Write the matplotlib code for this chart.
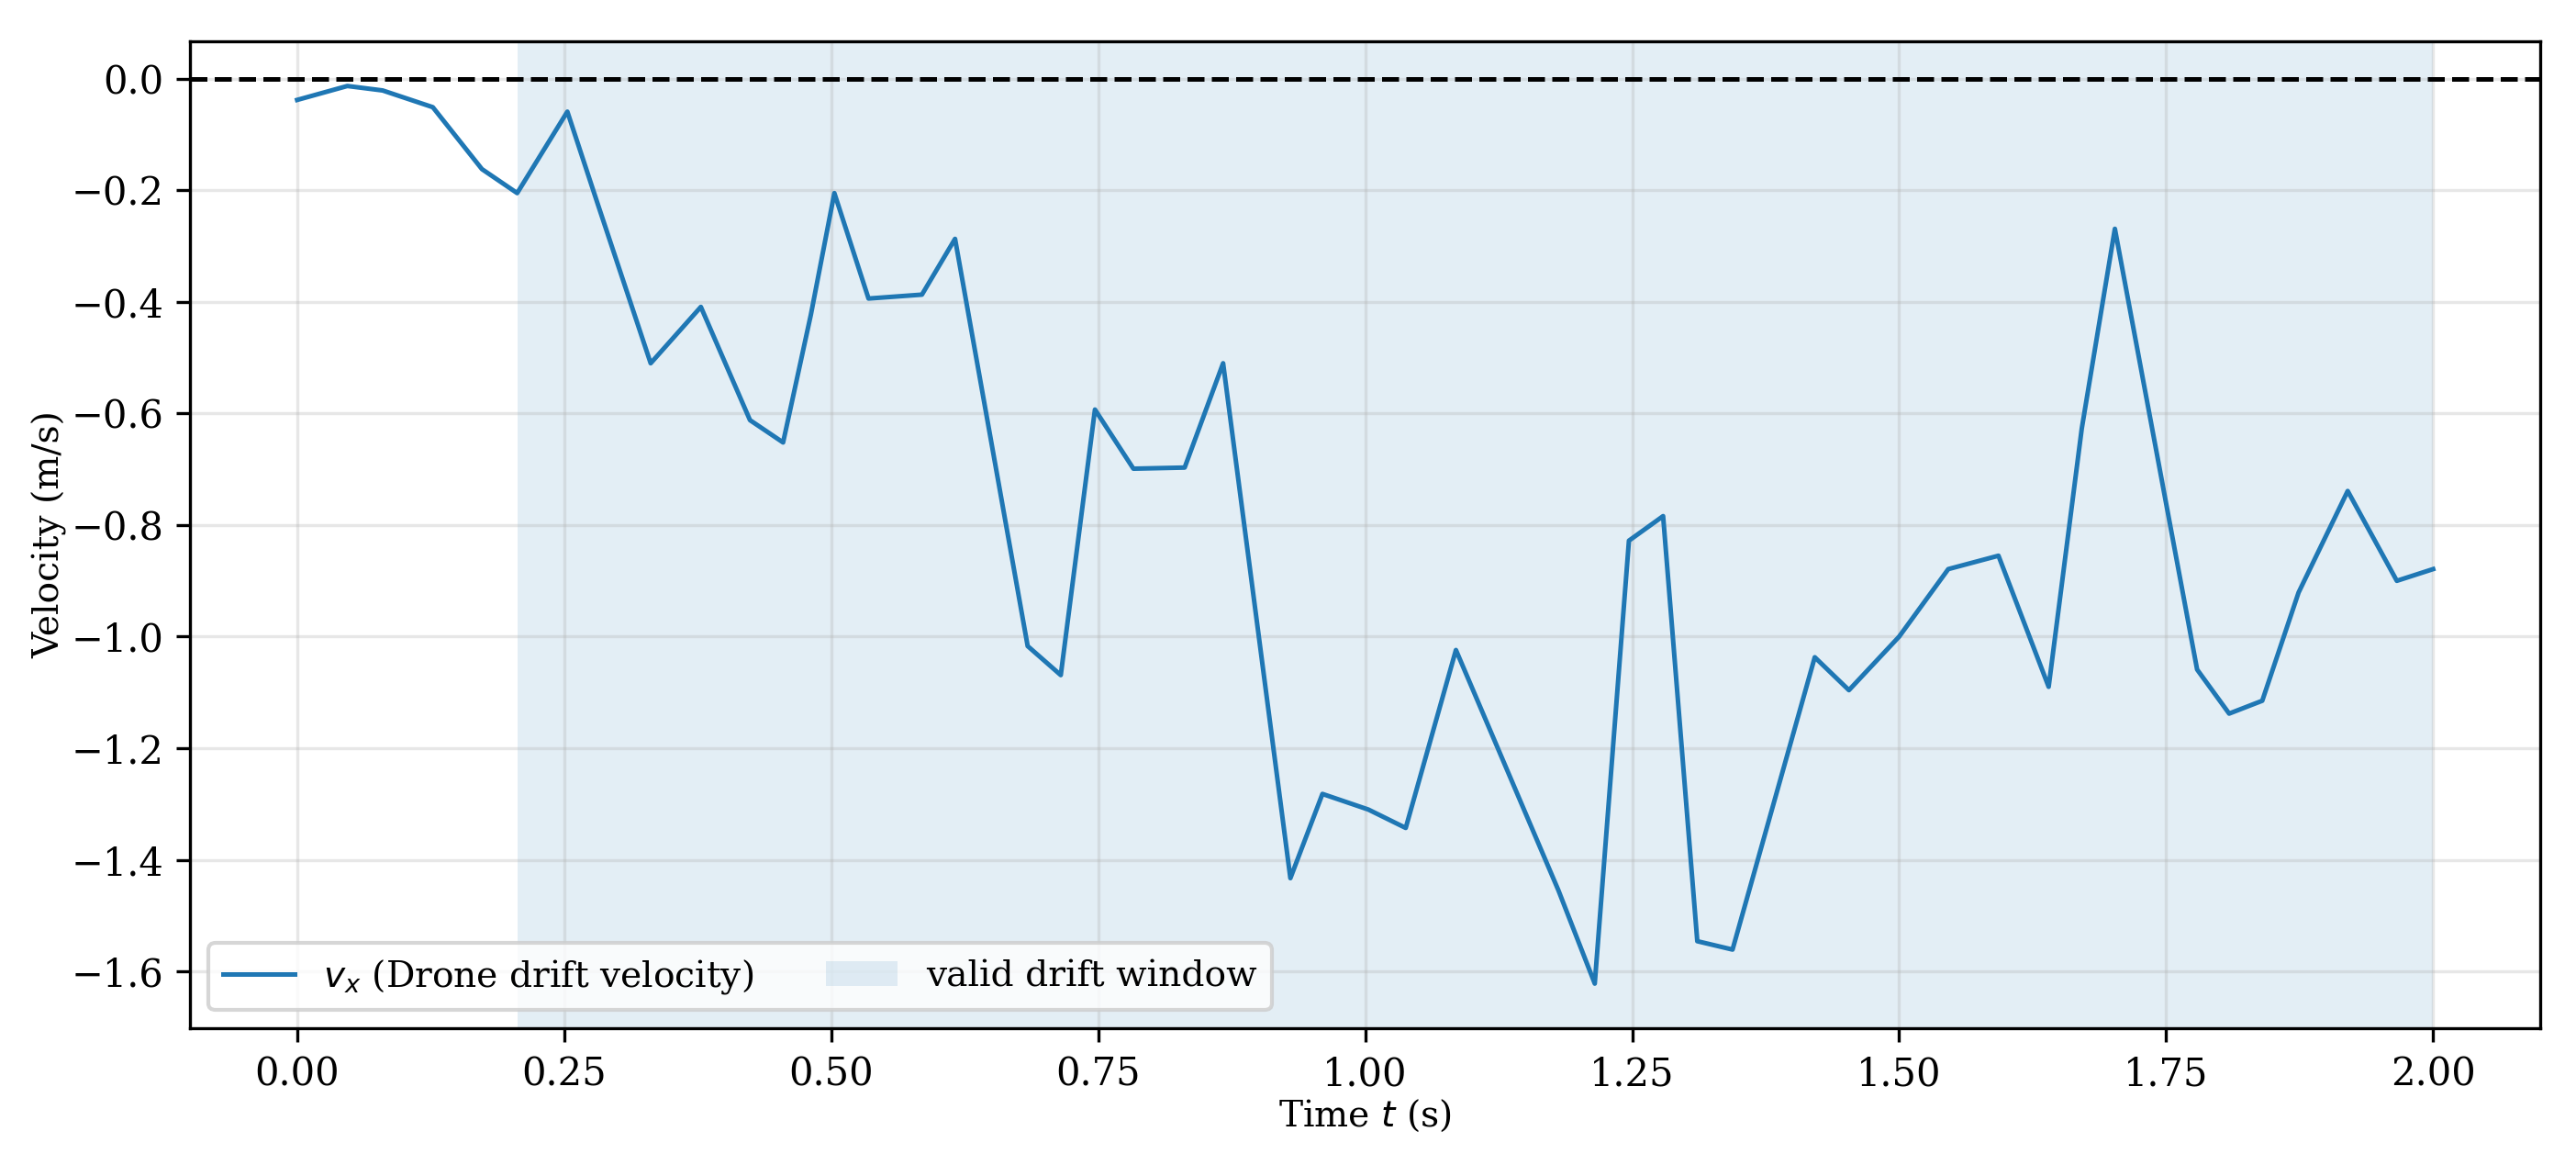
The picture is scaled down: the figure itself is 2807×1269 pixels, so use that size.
import matplotlib
matplotlib.use('Agg')
import matplotlib.pyplot as plt

# drone drift velocity
t = [0.000, 0.047, 0.080, 0.127, 0.173, 0.206, 0.253, 0.281, 0.331, 0.378,
     0.424, 0.455, 0.481, 0.503, 0.535, 0.585, 0.616, 0.684, 0.715, 0.747,
     0.783, 0.831, 0.867, 0.930, 0.960, 1.003, 1.038, 1.085, 1.181, 1.215,
     1.247, 1.279, 1.311, 1.344, 1.421, 1.453, 1.500, 1.546, 1.593, 1.640,
     1.671, 1.702, 1.779, 1.809, 1.840, 1.874, 1.920, 1.966, 2.000]
vx = [-0.038, -0.013, -0.021, -0.051, -0.162, -0.205, -0.059, -0.222, -0.510, -0.409,
      -0.612, -0.652, -0.423, -0.205, -0.394, -0.387, -0.287, -1.017, -1.069, -0.593,
      -0.699, -0.697, -0.510, -1.433, -1.282, -1.310, -1.343, -1.024, -1.455, -1.622,
      -0.828, -0.784, -1.546, -1.561, -1.037, -1.096, -1.000, -0.879, -0.855, -1.090,
      -0.627, -0.269, -1.059, -1.138, -1.115, -0.921, -0.739, -0.900, -0.879]

window_start = 0.206
window_end = 2.0

plt.rcParams['font.family'] = 'serif'
plt.rcParams['font.serif'] = ['DejaVu Serif']
plt.rcParams['font.size'] = 9.4
plt.rcParams['xtick.labelsize'] = 10
plt.rcParams['ytick.labelsize'] = 10
plt.rcParams['axes.labelsize'] = 9.4

fig, ax = plt.subplots(figsize=(2807 / 300, 1269 / 300), dpi=300)
fig.subplots_adjust(left=0.0739, right=0.986, bottom=0.1174, top=0.9645)

ax.plot(t, vx, color='tab:blue', lw=1.2, label=r'$v_x$ (Drone drift velocity)')
ax.axvspan(window_start, window_end, color='tab:blue', alpha=0.12, lw=0,
           label='valid drift window')
ax.axhline(0, color='k', ls='--', lw=1.2)

ax.set_xlim(-0.1, 2.1)
ax.set_ylim(-1.702, 0.067)
ax.grid(True, alpha=0.3)
ax.set_xlabel('Time $t$ (s)', labelpad=1)
ax.set_ylabel('Velocity (m/s)', labelpad=1)
ax.legend(loc='lower left', ncol=2)

plt.savefig('out.png', dpi=300)
